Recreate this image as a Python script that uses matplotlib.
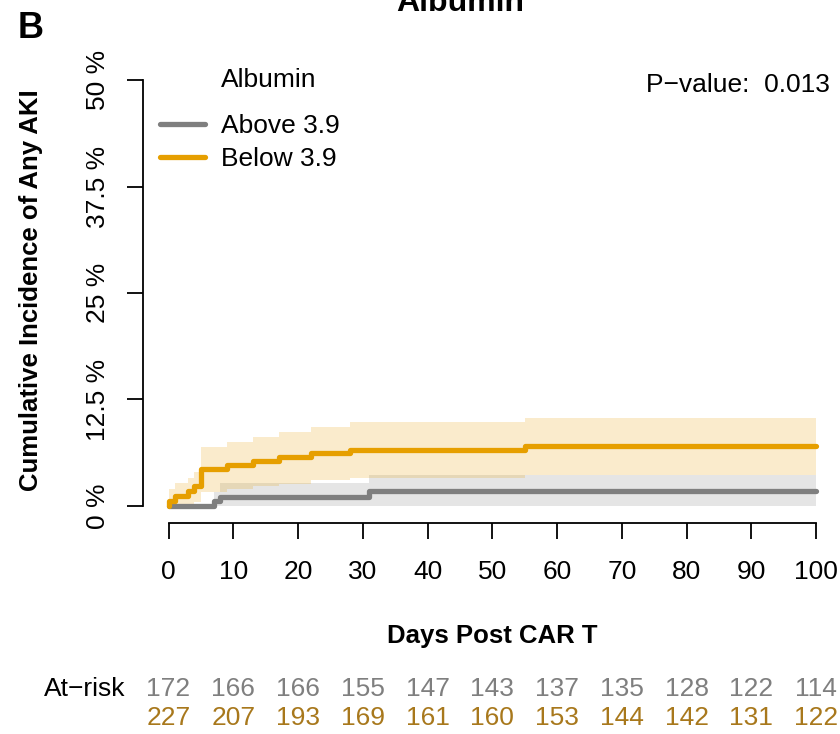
import matplotlib
matplotlib.use("Agg")
import matplotlib.pyplot as plt
from matplotlib.transforms import blended_transform_factory
import numpy as np

plt.rcParams['font.family'] = ['Liberation Sans', 'DejaVu Sans']

# ---------------- data ----------------
groups = ["Above 3.9", "Below 3.9"]
legend_title = "Albumin"
title = "Albumin"
p_value_text = "P\u2212value:  0.013"

# Above 3.9 (grey)
above_times = [0, 7, 8, 31]
above_ci = [0.0, 0.55, 1.1, 1.7]
above_lower = [0.0, 0.0, 0.0, 0.0]
above_upper = [0.0, 1.6, 2.75, 3.6]

# Below 3.9 (orange)
below_times = [0, 0, 1, 3, 4, 5, 9, 13, 17, 22, 28, 55]
below_ci = [0.0, 0.6, 1.2, 1.7, 2.35, 4.3, 4.8, 5.3, 5.8, 6.2, 6.6, 7.0]
below_lower = [0.0, 0.0, 0.0, 0.1, 0.5, 1.6, 2.0, 2.3, 2.6, 3.0, 3.3, 3.6]
below_upper = [0.0, 2.0, 2.7, 3.3, 4.0, 6.9, 7.5, 8.1, 8.7, 9.3, 9.8, 10.3]

x_ticks = [0, 10, 20, 30, 40, 50, 60, 70, 80, 90, 100]
y_ticks = [0, 12.5, 25, 37.5, 50]
y_ticklabels = ["0 %", "12.5 %", "25 %", "37.5 %", "50 %"]

at_risk_above = [172, 166, 166, 155, 147, 143, 137, 135, 128, 122, 114]
at_risk_below = [227, 207, 193, 169, 161, 160, 153, 144, 142, 131, 122]

# ---------------- styling ----------------
col_above = "#7F7F7F"
col_below = "#E69F00"
col_below_text = "#A8781C"
t_end = 100
fs = 19

W, H = 840, 734
fig = plt.figure(figsize=(W / 100, H / 100), dpi=100)
left_px, right_px, top_px, bottom_px = 142.6, 842.0, 63.0, 523.0
ax = fig.add_axes([left_px / W, 1 - bottom_px / H, (right_px - left_px) / W,
                   (bottom_px - top_px) / H])
ax.set_xlim(-4, 104)
ax.set_ylim(-2, 52)


def ext(t, v):
    return list(t) + [t_end], list(v) + [v[-1]]


series = [
    (above_times, above_ci, above_lower, above_upper, col_above, groups[0]),
    (below_times, below_ci, below_lower, below_upper, col_below, groups[1]),
]
handles = []
for t, v, lo, up, col, lab in series:
    tt, lo2 = ext(t, lo)
    _, up2 = ext(t, up)
    ax.fill_between(tt, lo2, up2, step="post", color=col, alpha=0.2, lw=0)
for t, v, lo, up, col, lab in series:
    tt, vv = ext(t, v)
    h, = ax.step(tt, vv, where="post", color=col, lw=3.8,
                 solid_capstyle="round", solid_joinstyle="round", label=lab)
    handles.append(h)

# axes
for s in ["top", "right"]:
    ax.spines[s].set_visible(False)
ax.spines["left"].set_bounds(0, 50)
ax.spines["bottom"].set_bounds(0, 100)
for s in ["left", "bottom"]:
    ax.spines[s].set_linewidth(1.3)
ax.set_xticks(x_ticks)
ax.set_xticklabels([str(x) for x in x_ticks])
ax.set_yticks(y_ticks)
ax.set_yticklabels(y_ticklabels, rotation=90, va="center")
ax.tick_params(axis="both", length=11.5, width=1.3, labelsize=fs, color="black")
ax.tick_params(axis="x", pad=15)
ax.tick_params(axis="y", pad=12)

ax.set_xlabel("Days Post CAR T", fontsize=18.5, fontweight="bold", labelpad=29)
ax.set_ylabel("Cumulative Incidence of Any AKI", fontsize=18.5, fontweight="bold")
ax.yaxis.set_label_coords((43 - left_px) / (right_px - left_px),
                          (bottom_px - 290) / (bottom_px - top_px))

# title (partly clipped at top) and panel label
fig.text(460 / W, 1 - 11 / H, title, fontsize=23, fontweight="bold",
         ha="center", va="baseline")
fig.text(18 / W, 1 - 38 / H, "B", fontsize=26, fontweight="bold",
         ha="left", va="baseline")

# legend
fig.text(221 / W, 1 - 80 / H, legend_title, fontsize=fs, ha="left", va="center")
leg = ax.legend(handles=handles, labels=groups, loc="upper left",
                bbox_to_anchor=(160 / W, 1 - 114 / H), bbox_transform=fig.transFigure,
                frameon=False, fontsize=fs, handlelength=1.7, handletextpad=0.6,
                labelspacing=0.36, borderpad=0, borderaxespad=0)

# p-value
fig.text(830 / W, 1 - 85 / H, p_value_text, fontsize=fs, ha="right", va="center")

# at-risk table
tr = blended_transform_factory(ax.transData, fig.transFigure)
fig.text(125 / W, 1 - 689 / H, "At\u2212risk", fontsize=fs, ha="right", va="center")
for x, a, b in zip(x_ticks, at_risk_above, at_risk_below):
    ax.text(x, 1 - 689 / H, str(a), transform=tr, fontsize=fs, ha="center",
            va="center", color=col_above, clip_on=False)
    ax.text(x, 1 - 718 / H, str(b), transform=tr, fontsize=fs, ha="center",
            va="center", color=col_below_text, clip_on=False)

fig.savefig("out.png", dpi=100)
